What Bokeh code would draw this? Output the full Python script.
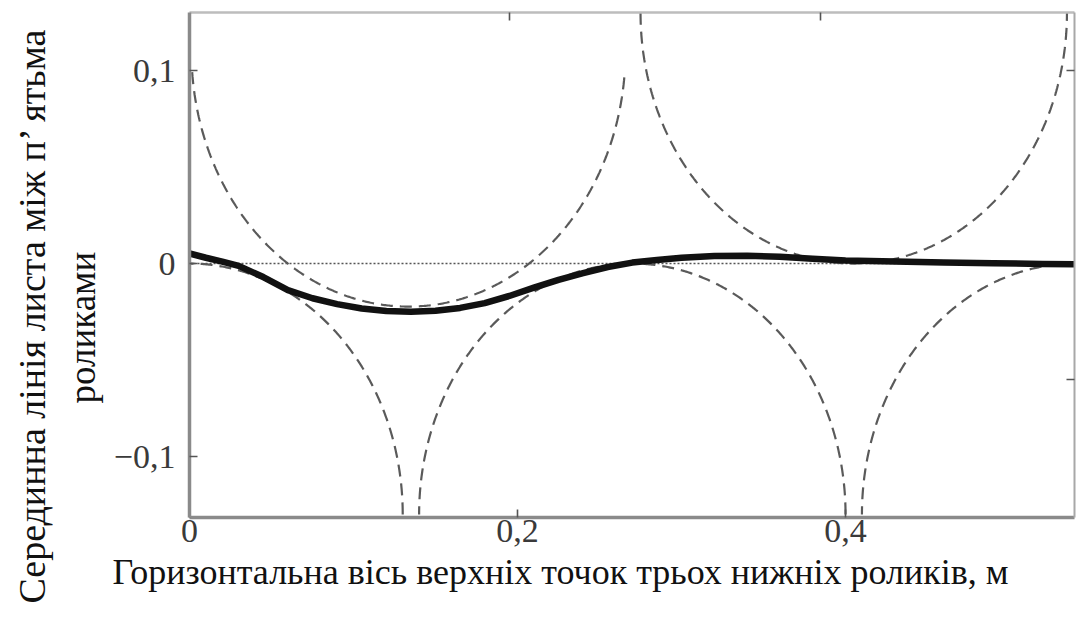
import numpy as np
from bokeh.plotting import figure
from bokeh.models import Range1d, FixedTicker, LinearAxis, Span, Title
from bokeh.embed import file_html
from bokeh.resources import INLINE

# ---- data ----
# mid line of the sheet (thick black curve)
sheet_x = [0.000, 0.010, 0.020, 0.030, 0.045, 0.060, 0.075, 0.090, 0.105, 0.120,
           0.135, 0.150, 0.165, 0.180, 0.195, 0.210, 0.225, 0.240, 0.255, 0.270,
           0.285, 0.300, 0.320, 0.340, 0.360, 0.380, 0.400, 0.430, 0.460, 0.490,
           0.520, 0.540]
sheet_y = [0.0052, 0.0030, 0.0010, -0.0012, -0.0070, -0.0138, -0.0180, -0.0210, -0.0233, -0.0246,
           -0.0250, -0.0245, -0.0230, -0.0205, -0.0168, -0.0125, -0.0085, -0.0050, -0.0018, 0.0005,
           0.0018, 0.0030, 0.0039, 0.0040, 0.0035, 0.0025, 0.0016, 0.0010, 0.0006, 0.0002,
           -0.0002, -0.0004]

# upper rollers (lower halves drawn, dashed)
upper_cx = [0.1335, 0.405]
upper_cy = [0.110, 0.130]
upper_r = [0.1323, 0.130]
upper_ymax = [0.100, 0.130]

# lower rollers (upper halves drawn, dashed)
lower_cx = [0.000, 0.270, 0.540]
lower_cy = [-0.130, -0.130, -0.130]
lower_r = [0.130, 0.130, 0.130]

x_ticks = [0, 0.2, 0.4]
x_tick_labels = ["0", "0,2", "0,4"]
y_ticks = [-0.1, 0, 0.1]
y_tick_labels = ["\u22120,1", "0", "0,1"]
top_ticks = [0.195, 0.385]
right_ticks = [0.1, -0.06]

x_title = "Горизонтальна вісь верхніх точок трьох нижніх роликів, м"
y_title_1 = "Серединна лінія листа між п\u2019 ятьма"
y_title_2 = "роликами"

FONT = "Liberation Serif"

# ---- roller outlines ----
xs, ys = [], []
for cx, cy, r, ymax in zip(upper_cx, upper_cy, upper_r, upper_ymax):
    t = np.linspace(np.pi, 2 * np.pi, 500)
    x = cx + r * np.cos(t)
    y = cy + r * np.sin(t)
    m = y <= ymax + 1e-9
    xs.append(list(x[m])); ys.append(list(y[m]))
for cx, cy, r in zip(lower_cx, lower_cy, lower_r):
    t = np.linspace(0, np.pi, 500)
    xs.append(list(cx + r * np.cos(t))); ys.append(list(cy + r * np.sin(t)))

p = figure(width=1076, height=624, output_backend="svg", toolbar_location=None,
           x_range=Range1d(0, 0.5396), y_range=Range1d(-0.1316, 0.1301),
           min_border_left=189, min_border_right=2, min_border_top=12, min_border_bottom=107)
p.xgrid.visible = False
p.ygrid.visible = False
p.outline_line_color = None
p.background_fill_color = "white"
p.border_fill_color = "white"

def style_axis(ax, ticks, labels=None, line_color="#8a8a8a", line_width=3.5, standoff=0):
    ax.ticker = FixedTicker(ticks=ticks)
    ax.axis_line_color = line_color
    ax.axis_line_width = line_width
    ax.major_tick_in = 8
    ax.major_tick_out = 0
    ax.minor_tick_in = 0
    ax.minor_tick_out = 0
    ax.major_tick_line_color = "#555555"
    ax.major_tick_line_width = 1.6
    ax.major_label_standoff = standoff
    if labels is None:
        ax.major_label_text_font_size = "0px"
    else:
        ax.major_label_overrides = dict(zip(ticks, labels))
        ax.major_label_text_font = FONT
        ax.major_label_text_font_size = "34px"
        ax.major_label_text_color = "#3a3a3a"

style_axis(p.xaxis[0], x_ticks, x_tick_labels, standoff=2)
style_axis(p.yaxis[0], y_ticks, y_tick_labels, standoff=14)

top_axis = LinearAxis()
style_axis(top_axis, top_ticks, None, line_color="#bdbdbd", line_width=2.5)
p.add_layout(top_axis, "above")
right_axis = LinearAxis()
style_axis(right_axis, right_ticks, None, line_color="#a8a8a8", line_width=2)
p.add_layout(right_axis, "right")

# zero reference line (dotted)
p.add_layout(Span(location=0, dimension="width", line_color="#555555",
                  line_width=1.5, line_dash="2 2", level="underlay"))

p.multi_line(xs, ys, line_color="#5a5a5a", line_width=2.2, line_dash="12 7")
p.line(sheet_x, sheet_y, line_color="#111111", line_width=6.5,
       line_cap="round", line_join="round")

def title(text, size, offset, standoff):
    return Title(text=text, align="left", offset=offset, vertical_align="bottom",
                 standoff=standoff, text_font=FONT, text_font_size=size,
                 text_font_style="normal", text_color="#111111")

p.add_layout(title(x_title, "36px", -77, 10), "below")
p.add_layout(title(y_title_2, "37px", 114, 15), "left")
p.add_layout(title(y_title_1, "38px", -86, 0), "left")

open("out.html", "w").write(file_html(p, INLINE))
